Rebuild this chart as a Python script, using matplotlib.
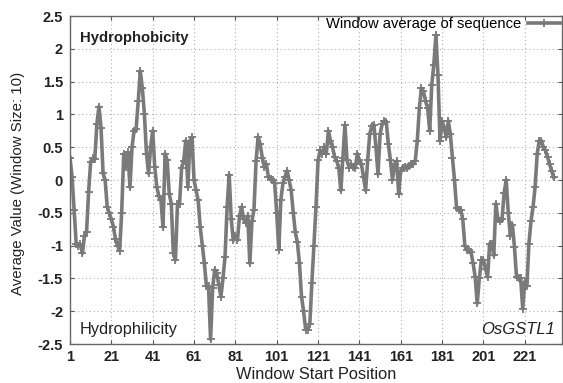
import numpy as np
import matplotlib.pyplot as plt

plt.rcParams['font.family'] = ['Liberation Sans', 'DejaVu Sans']

# window average hydropathy values, positions 1..235
values = [
    0.34, 0.05, -0.45, -0.97, -1.0, -0.98, -1.12, -0.85, -0.8, -0.18,
    0.28, 0.33, 0.32, 0.85, 1.12, 0.8, 0.1, 0.0, -0.41, -0.5,
    -0.6, -0.71, -0.9, -1.0, -1.08, -0.5, 0.4, 0.2, 0.42, -0.11,
    0.5, 0.75, 0.78, 1.2, 1.66, 1.4, 1.0, 0.4, 0.1, 0.5,
    0.75, 0.2, -0.11, -0.25, -0.31, -0.72, 0.4, 0.3, -0.21, -0.36,
    -1.12, -1.22, -0.36, -0.36, 0.19, 0.29, 0.6, -0.11, 0.6, 0.65,
    0.0, -0.16, -0.31, -0.72, -1.0, -1.27, -1.62, -1.62, -2.43, -1.65,
    -1.37, -1.42, -1.6, -1.78, -1.5, -1.17, -0.41, 0.08, -0.6, -0.92,
    -0.85, -0.92, -0.55, -0.41, -0.6, -0.65, -0.55, -1.27, -0.63, -0.45,
    0.29, 0.65, 0.55, 0.34, 0.2, 0.24, 0.04, 0.02, 0.0, -0.05,
    -0.5, -1.06, -0.3, -0.05, 0.05, 0.14, 0.0, -0.16, -0.5, -0.8,
    -0.95, -1.27, -1.78, -2.0, -2.28, -2.28, -2.2, -1.57, -1.0, -0.41,
    0.3, 0.45, 0.4, 0.5, 0.4, 0.75, 0.6, 0.5, 0.35, 0.29,
    0.19, -0.16, 0.34, 0.84, 0.3, 0.19, 0.24, 0.2, 0.19, 0.4,
    0.3, 0.24, 0.04, -0.16, 0.3, 0.7, 0.82, 0.84, 0.5, 0.09,
    0.7, 0.85, 0.9, 0.88, 0.55, 0.3, 0.0, 0.24, 0.29, -0.21,
    0.14, 0.19, 0.2, 0.19, 0.22, 0.24, 0.24, 0.29, 0.6, 1.1,
    1.4, 1.35, 1.2, 1.1, 0.75, 1.45, 1.76, 2.21, 1.6, 0.6,
    0.9, 0.8, 0.65, 0.9, 0.7, 0.34, 0.0, -0.43, -0.45, -0.45,
    -0.6, -1.0, -1.07, -1.07, -1.1, -1.27, -1.48, -1.88, -1.5, -1.22,
    -1.22, -1.35, -1.48, -0.97, -0.97, -1.15, -0.36, -0.6, -0.63, -0.6,
    -0.2, 0.0, -0.5, -0.85, -0.68, -1.02, -1.48, -1.5, -1.5, -1.96,
    -1.55, -1.62, -0.97, -0.63, -0.41, -0.1, 0.4, 0.6, 0.6, 0.5,
    0.45, 0.35, 0.24, 0.14, 0.04,
]
positions = np.arange(1, len(values) + 1)

xticks = [1, 21, 41, 61, 81, 101, 121, 141, 161, 181, 201, 221]
yticks = [-2.5, -2, -1.5, -1, -0.5, 0, 0.5, 1, 1.5, 2, 2.5]
ytick_labels = ['-2.5', '-2', '-1.5', '-1', '-0.5', '0', '0.5', '1', '1.5', '2', '2.5']

fig = plt.figure(figsize=(5.63, 3.83), dpi=100)
ax = fig.add_axes([70/563, 1 - 344/383, 492/563, 328/383])

ax.plot(positions, values, color='#7a7a7a', lw=2.6, marker='+', ms=5.5, mew=1.3,
        label='Window average of sequence')

ax.set_xlim(1, 239)
ax.set_ylim(-2.5, 2.5)
ax.set_xticks(xticks)
ax.set_yticks(yticks)
ax.set_yticklabels(ytick_labels)
ax.tick_params(direction='in', top=True, right=True, length=3, color='#555555',
               labelsize=10.5, labelcolor='#222222')
ax.tick_params(axis='x', pad=4)
ax.tick_params(axis='y', pad=5)
for lab in ax.get_xticklabels() + ax.get_yticklabels():
    lab.set_fontweight('bold')
ax.grid(True, color='#b0b0b0', ls=(0, (1, 2.5)), lw=0.8)
for s in ax.spines.values():
    s.set_color('#666666')
    s.set_linewidth(1.0)

ax.set_xlabel('Window Start Position', fontsize=11.8, color='#222222')
ax.set_ylabel('Average Value (Window Size: 10)', fontsize=10.8, color='#222222')
ax.xaxis.set_label_coords(0.5, -0.07)
ax.yaxis.set_label_coords(-0.092, 0.49)

ax.text(0.02, 0.922, 'Hydrophobicity', transform=ax.transAxes, fontsize=10.7,
        fontweight='bold', color='#222222')
ax.text(0.02, 0.03, 'Hydrophilicity', transform=ax.transAxes, fontsize=11.8,
        color='#222222')
ax.text(0.985, 0.03, 'OsGSTL1', transform=ax.transAxes, fontsize=12,
        fontstyle='italic', color='#222222', ha='right')

leg = ax.legend(loc='upper right', frameon=False, fontsize=10.6, handlelength=2.2,
                borderaxespad=0.0, borderpad=0.1, handletextpad=0.5,
                markerfirst=False)

fig.savefig('out.png', dpi=100)
